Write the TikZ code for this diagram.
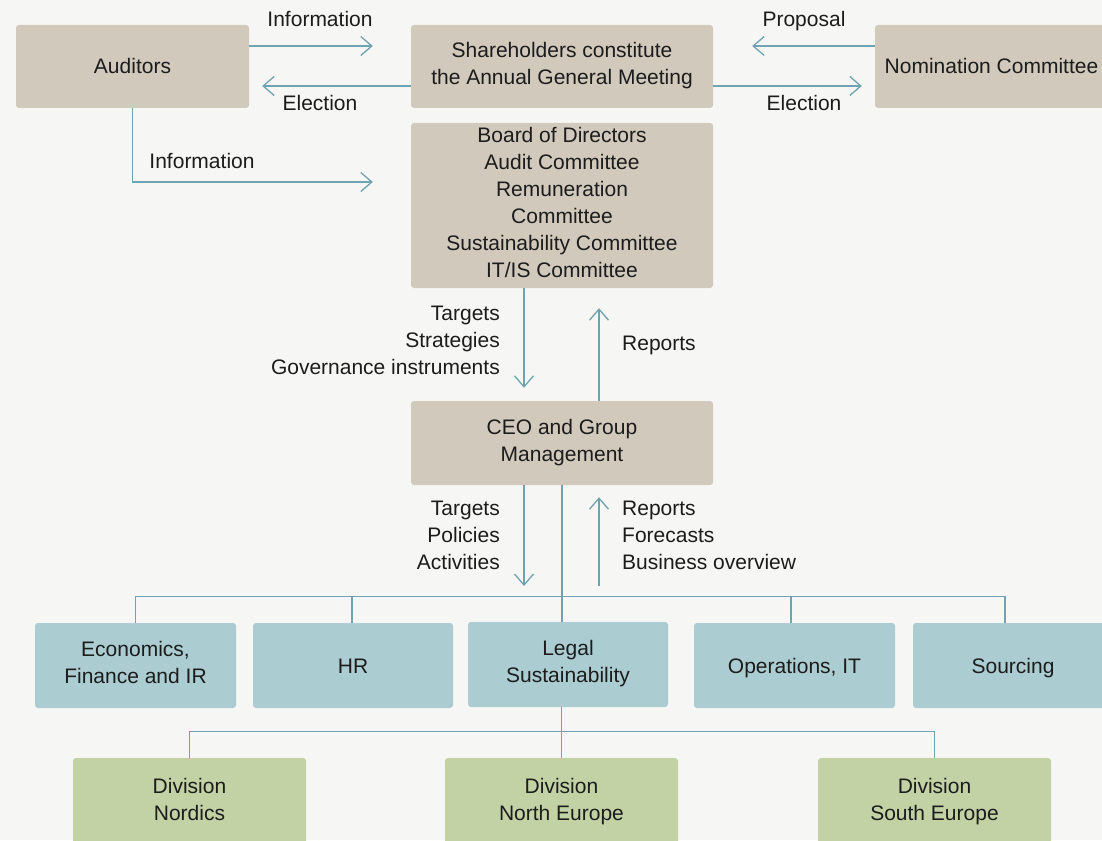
\documentclass[tikz,border=0pt]{standalone}
\usepackage{fontspec}
\setmainfont{Liberation Sans}
\usetikzlibrary{arrows.meta}
\definecolor{bgc}{HTML}{F6F6F4}
\definecolor{beige}{HTML}{D0C9BC}
\definecolor{bluebox}{HTML}{ABCDD1}
\definecolor{greenbox}{HTML}{C2D2A5}
\definecolor{linec}{HTML}{6FA3B1}
\definecolor{txt}{HTML}{1C1C1C}
% strut that keeps the capitals centred in every node
\newcommand{\capstrut}{\rule[-6pt]{0pt}{27pt}}
\begin{document}
\begin{tikzpicture}[x=1pt,y=-1pt,
  every node/.style={text=txt,font=\fontsize{21}{27}\selectfont,
    execute at begin node=\capstrut,execute at end node=\capstrut},
  box/.style={rounded corners=3pt,inner sep=0pt,align=center,minimum height=#1},
  box/.default=84pt,
  govbox/.style={box,fill=beige},
  unitbox/.style={box=85pt,fill=bluebox,minimum width=200pt},
  divbox/.style={box=88pt,fill=greenbox,minimum width=233pt},
  conn/.style={draw=linec,line width=1.3pt},
  arr/.style={conn,-{Straight Barb[length=11pt,width=19pt]}},
  lbl/.style={inner sep=0pt}]
\useasboundingbox[fill=bgc] (0,0) rectangle (1102,840);

% governing bodies
\node[govbox,minimum width=233pt,minimum height=83pt] (aud) at (132.5,66.5) {Auditors};
\node[govbox,minimum width=302pt,minimum height=83pt] (agm) at (562,66.5) {Shareholders constitute\\the Annual General Meeting};
\node[govbox,minimum width=233pt,minimum height=83pt] (nom) at (991.5,66.5) {Nomination Committee};
\node[govbox,minimum width=302pt,minimum height=165pt] (board) at (562,205.5) {Board of Directors\\Audit Committee\\Remuneration\\Committee\\Sustainability Committee\\IT/IS Committee};
\node[govbox,minimum width=302pt] (ceo) at (562,443) {CEO and Group\\Management};

% group functions
\node[unitbox,minimum width=201pt] (eco) at (135.5,665.5) {Economics,\\Finance and IR};
\node[unitbox] (hr) at (353,665.5) {HR};
\node[unitbox] (legal) at (568,664.5) {Legal\\Sustainability};
\node[unitbox,minimum width=201pt] (ops) at (794.5,665.5) {Operations, IT};
\node[unitbox] (src) at (1013,665.5) {Sourcing};

% divisions
\node[divbox] (nor) at (189.5,802) {Division\\Nordics};
\node[divbox] (ne) at (561.5,802) {Division\\North Europe};
\node[divbox] (se) at (934.5,802) {Division\\South Europe};

% flows between the governing bodies
\draw[arr,shorten >=38pt] ([yshift=20.5pt]aud.east) -- ([yshift=20.5pt]agm.west);
\draw[arr,shorten >=13pt] ([yshift=-19.5pt]agm.west) -- ([yshift=-19.5pt]aud.east);
\draw[arr,shorten >=39pt] ([yshift=20.5pt]nom.west) -- ([yshift=20.5pt]agm.east);
\draw[arr,shorten >=13pt] ([yshift=-19.5pt]agm.east) -- ([yshift=-19.5pt]nom.west);
\draw[arr,shorten >=38pt] (aud.south) |- ([yshift=23.5pt]board.west);
\draw[arr,shorten >=13pt] ([xshift=-38pt]board.south) -- ([xshift=-38pt]ceo.north);
\draw[arr,shorten >=20pt] ([xshift=37pt]ceo.north) -- ([xshift=37pt]board.south);

\node[lbl] (l1) at (320,19) {Information};
\node[lbl] (l2) at (320,103) {Election};
\node[lbl] (l3) at (804,19) {Proposal};
\node[lbl] (l4) at (804,103) {Election};
\node[lbl] (l5) at (202,161) {Information};
\node[lbl,align=right,anchor=east] (l6) at (500,343) {Targets\\Strategies\\Governance instruments};
\node[lbl,anchor=west] (l7) at (622,343) {Reports};

% flows between management and the group
\coordinate (dn) at (524,586);
\coordinate (up) at (599,586);
\draw[arr] ([xshift=-38pt]ceo.south) -- (dn);
\draw[arr,shorten >=12pt] (up) -- (up |- ceo.south);
\node[lbl,align=right,anchor=east] (l8) at (500,538) {Targets\\Policies\\Activities};
\node[lbl,align=left,anchor=west] (l9) at (622,538) {Reports\\Forecasts\\Business overview};

% organisation tree
\draw[conn] (ceo.south) -- (ceo.south |- legal.north);
\draw[conn] (eco.north) -- ++(0,-26) -| ([xshift=-8pt]src.north);
\draw[conn] ([xshift=-1pt]hr.north) -- ++(0,-26);
\draw[conn] ([xshift=-3.5pt]ops.north) -- ++(0,-26);
\draw[conn] (ne.north |- legal.south) -- (ne.north);
\draw[conn] (nor.north) -- ++(0,-26) -| (se.north);
\end{tikzpicture}
\end{document}
